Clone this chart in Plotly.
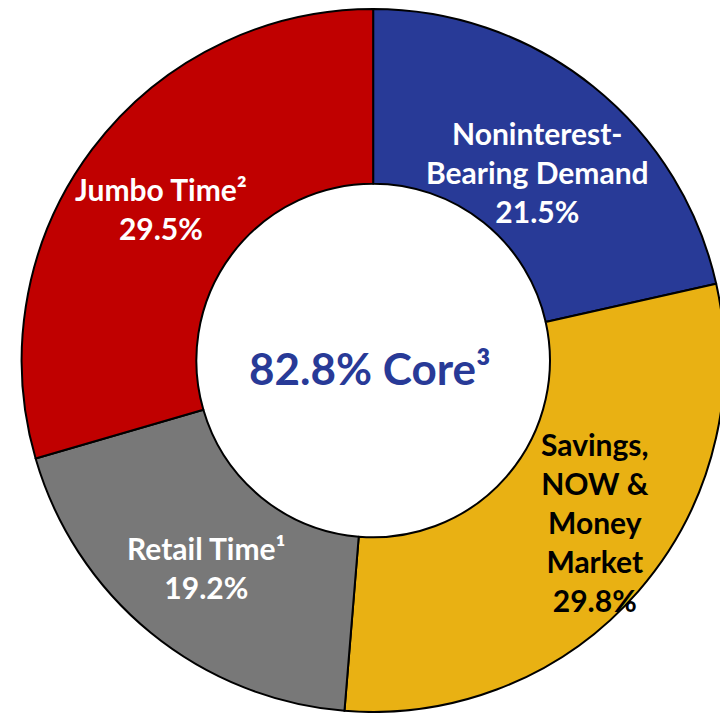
import plotly.graph_objects as go

categories = ["Noninterest-<br>Bearing Demand", "Savings,<br>NOW &<br>Money<br>Market", "Retail Time¹", "Jumbo Time²"]
values = [21.5, 29.8, 19.2, 29.5]
colors = ["#283A97", "#E9B113", "#787878", "#C00000"]
text_colors = ["white", "black", "white", "white"]
label_pos = [(0.736, 0.768), (0.815, 0.271), (0.275, 0.206), (0.2125, 0.716)]
center_text = "82.8% Core³"

W, H = 720, 705  # page body adds an 8px margin, so this fills the 728x713 window

fig = go.Figure(go.Pie(
    labels=categories,
    values=values,
    sort=False,
    direction="clockwise",
    rotation=0,
    hole=0.503,
    marker=dict(colors=colors, line=dict(color="black", width=2)),
    textinfo="none",
    showlegend=False,
    domain=dict(x=[12.7/W, 717.6/W], y=[1/H, 704/H]),
))

FONT = "Lato, 'Open Sans', sans-serif"
for cat, val, tc, (x, y) in zip(categories, values, text_colors, label_pos):
    fig.add_annotation(
        x=x, y=y, xref="paper", yref="paper",
        xanchor="center", yanchor="middle",
        text=f"<b>{cat}<br>{val:.1f}%</b>",
        showarrow=False,
        font=dict(family=FONT, size=30, color=tc),
        align="center",
    )

fig.add_annotation(
    x=0.503, y=0.489, xref="paper", yref="paper",
    xanchor="center", yanchor="middle",
    text=f"<b>{center_text}</b>", showarrow=False,
    font=dict(family=FONT, size=44, color="#283A97"),
)

fig.update_layout(
    width=W, height=H,
    margin=dict(l=0, r=0, t=0, b=0),
    paper_bgcolor="white", plot_bgcolor="white",
)
fig.write_html("out.html")
